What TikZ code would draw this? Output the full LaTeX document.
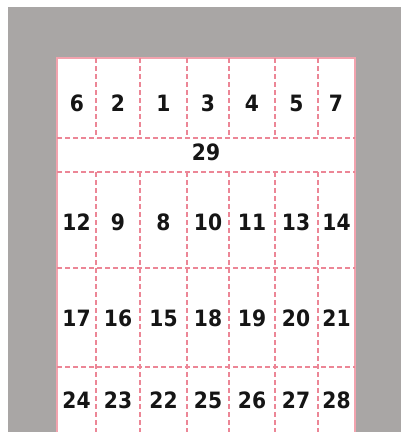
\documentclass[tikz,border=0pt]{standalone}
\usepackage{fontspec}
\newfontfamily\numfont{DejaVu Sans Condensed}[BoldFont={DejaVu Sans Condensed Bold}]
\definecolor{bggray}{HTML}{A9A6A5}
\definecolor{cutred}{HTML}{EC8696}
\definecolor{sheetedge}{HTML}{F2A3AE}
\definecolor{numcol}{HTML}{151515}
\tikzset{
  num/.style={font=\numfont\bfseries\fontsize{22.5}{23}\selectfont, text=numcol, inner sep=0pt},
  cutline/.style={draw=cutred, line width=1.2pt, dash pattern=on 5pt off 3pt},
}
\begin{document}
\begin{tikzpicture}[x=1pt,y=-1pt]
\useasboundingbox (0,0) rectangle (401,432);
\fill[white] (0,0) rectangle (401,432);
\fill[bggray] (8,7) rectangle (401,432);
% sheet
\fill[white] (57,58) rectangle (355,432);
\draw[sheetedge, line width=1.2pt] (57,432) -- (57,58) -- (355,58) -- (355,432);
% horizontal cut lines
\foreach \y in {138,172,268,367}
  \draw[cutline] (57,\y) -- (355,\y);
% vertical cut lines
\foreach \x in {96,140,187,229,275,318}{
  \draw[cutline] (\x,58) -- (\x,138);
  \draw[cutline] (\x,172) -- (\x,432);
}
% row 1
\node[num] (n6) at (77,103) {6};
\node[num] (n2) at (118,103) {2};
\node[num] (n1) at (163.5,103) {1};
\node[num] (n3) at (208,103) {3};
\node[num] (n4) at (252,103) {4};
\node[num] (n5) at (296.5,103) {5};
\node[num] (n7) at (336,103) {7};
% band
\node[num] (n29) at (206,152) {29};
% row 3
\node[num] (n12) at (76.5,222) {12};
\node[num] (n9) at (118,222) {9};
\node[num] (n8) at (163.5,222) {8};
\node[num] (n10) at (208,222) {10};
\node[num] (n11) at (252,222) {11};
\node[num] (n13) at (296,222) {13};
\node[num] (n14) at (336.5,222) {14};
% row 4
\node[num] (n17) at (76.5,318) {17};
\node[num] (n16) at (118,318) {16};
\node[num] (n15) at (163.5,318) {15};
\node[num] (n18) at (208,318) {18};
\node[num] (n19) at (252,318) {19};
\node[num] (n20) at (296,318) {20};
\node[num] (n21) at (336.5,318) {21};
% row 5
\node[num] (n24) at (76.5,400) {24};
\node[num] (n23) at (118,400) {23};
\node[num] (n22) at (163.5,400) {22};
\node[num] (n25) at (208,400) {25};
\node[num] (n26) at (252,400) {26};
\node[num] (n27) at (296,400) {27};
\node[num] (n28) at (336.5,400) {28};
\end{tikzpicture}
\end{document}
